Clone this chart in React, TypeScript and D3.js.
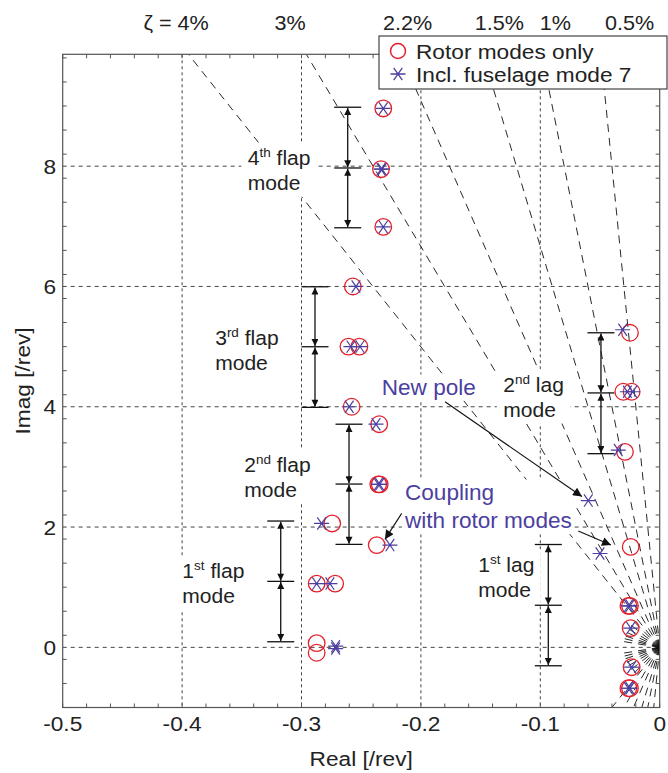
import { useEffect, useRef } from 'react';
import * as d3 from 'd3';

const W = 668;
const H = 773;

// axis ticks
const xTicks = [-0.5, -0.4, -0.3, -0.2, -0.1, 0];
const yTicks = [0, 2, 4, 6, 8];
const xGrid = [-0.4, -0.3, -0.2, -0.1];
const yGrid = [0, 2, 4, 6, 8];

// constant damping rays and their labels (label position = real part at top)
const dampingRatios = [0.04, 0.03, 0.022, 0.015, 0.01, 0.005];
const dampingLabels = ['ζ = 4%', '3%', '2.2%', '1.5%', '1%', '0.5%'];
const dampingLabelRe = [-0.405, -0.3095, -0.2112, -0.1343, -0.0873, -0.0253];
// short high damping rays near the origin
const fanRatios = [0.05, 0.065, 0.085, 0.11, 0.15, 0.2, 0.3];

// poles [real, imag] in /rev
const rotorPoles: [number, number][] = [
  [-0.2315, 8.96], [-0.2334, 7.95], [-0.2315, 6.99],
  [-0.257, 6.0],
  [-0.2607, 5.0], [-0.2515, 5.0],
  [-0.258, 4.0],
  [-0.2349, 3.71],
  [-0.2357, 2.71], [-0.2345, 2.71],
  [-0.237, 1.7],
  [-0.2743, 2.06],
  [-0.2873, 1.06], [-0.2718, 1.06],
  [-0.2873, 0.07], [-0.2873, -0.09],
  [-0.0249, 5.23],
  [-0.0305, 4.25], [-0.0235, 4.25],
  [-0.0291, 3.25],
  [-0.0243, 1.67],
  [-0.0249, 0.69], [-0.0262, 0.69],
  [-0.0243, 0.32],
  [-0.0235, -0.33],
  [-0.0249, -0.68], [-0.0262, -0.68],
];

const fuselagePoles: [number, number][] = [
  [-0.2315, 8.96], [-0.2334, 7.95], [-0.2325, 7.95], [-0.2315, 6.99],
  [-0.2544, 6.0],
  [-0.2586, 5.0], [-0.251, 5.0],
  [-0.26, 4.0],
  [-0.2376, 3.71],
  [-0.2357, 2.71], [-0.2345, 2.71],
  [-0.2259, 1.7],
  [-0.2832, 2.06],
  [-0.2873, 1.06], [-0.2762, 1.06],
  [-0.2714, 0.02], [-0.2714, -0.02],
  [-0.031, 5.28],
  [-0.0271, 4.25], [-0.0226, 4.25],
  [-0.0347, 3.28],
  [-0.0598, 2.44],
  [-0.05, 1.56],
  [-0.0249, 0.69], [-0.0262, 0.69],
  [-0.0243, 0.32],
  [-0.0235, -0.33],
  [-0.0249, -0.68], [-0.0262, -0.68],
];

// mode spread bars: x position and 3 cap levels
const barRe = [-0.2613, -0.2887, -0.2602, -0.3174, -0.0492, -0.0933];
const barCaps = [
  [8.98, 7.97, 6.976],
  [5.995, 4.998, 3.99],
  [3.71, 2.715, 1.712],
  [2.1, 1.097, 0.093],
  [5.23, 4.23, 3.22],
  [1.71, 0.7, -0.306],
];

// mode labels
const modeNum = ['4', '3', '2', '1', '2', '1'];
const modeSup = ['th', 'rd', 'nd', 'st', 'nd', 'st'];
const modeKind = ['flap', 'flap', 'flap', 'flap', 'lag', 'lag'];
const modeLabelRe = [-0.345, -0.3723, -0.348, -0.3998, -0.131, -0.152];
const modeLabelIm = [8.02, 5.03, 2.92, 1.147, 4.25, 1.25];

// blue notes and arrows
const noteLines = [['New pole'], ['Coupling', 'with rotor modes']];
const noteRe = [-0.2328, -0.2133];
const noteIm = [4.195, 2.45];
const arrowFrom: [number, number][] = [[-0.1798, 4.083], [-0.2161, 2.228], [-0.0682, 1.933]];
const arrowTo: [number, number][] = [[-0.0651, 2.507], [-0.2301, 1.796], [-0.0408, 1.7]];

const RED = '#e4202b';
const BLUE = '#4b3f9f';
const FONT = '"Liberation Sans", Arial, Helvetica, sans-serif';
const STRETCH = 1.08;

const App = () => {
  const svgRef = useRef<SVGSVGElement | null>(null);

  useEffect(() => {
    const svg = d3.select(svgRef.current);
    svg.selectAll('*').remove();

    const x = d3.scaleLinear().domain([-0.5, 0]).range([62.7, 659.7]);
    const y = d3.scaleLinear().domain([-1, 9.86]).range([707.5, 54.3]);
    const [x0, x1] = x.range();
    const [y1, y0] = y.range();

    svg.style('font-family', FONT);

    const defs = svg.append('defs');
    defs.append('clipPath').attr('id', 'plotclip')
      .append('rect').attr('x', x0).attr('y', y0).attr('width', x1 - x0).attr('height', y1 - y0);
    defs.append('marker').attr('id', 'barHead')
      .attr('viewBox', '0 0 10 10').attr('refX', 10).attr('refY', 5)
      .attr('markerWidth', 10).attr('markerHeight', 7).attr('markerUnits', 'userSpaceOnUse')
      .attr('orient', 'auto-start-reverse')
      .append('path').attr('d', 'M0,0L10,5L0,10Z').attr('fill', '#111');
    defs.append('marker').attr('id', 'noteHead')
      .attr('viewBox', '0 0 10 10').attr('refX', 10).attr('refY', 5)
      .attr('markerWidth', 14).attr('markerHeight', 9).attr('markerUnits', 'userSpaceOnUse')
      .attr('orient', 'auto')
      .append('path').attr('d', 'M0,0L10,5L0,10Z').attr('fill', '#111');

    const plot = svg.append('g').attr('clip-path', 'url(#plotclip)');

    // grid
    plot.selectAll('.vg').data(xGrid).join('line')
      .attr('x1', d => x(d)).attr('x2', d => x(d)).attr('y1', y0).attr('y2', y1)
      .attr('stroke', '#444').attr('stroke-width', 1).attr('stroke-dasharray', '3,3');
    plot.selectAll('.hg').data(yGrid).join('line')
      .attr('x1', x0).attr('x2', x1).attr('y1', d => y(d)).attr('y2', d => y(d))
      .attr('stroke', '#444').attr('stroke-width', 1).attr('stroke-dasharray', '4,4');

    // damping rays from the origin
    const ox = x(0), oy = y(0);
    const rays: [number, number, number, number][] = [];
    dampingRatios.forEach(z => {
      const k = z / Math.sqrt(1 - z * z);
      rays.push([ox, oy, x(-k * 9.86), y(9.86)]);
      rays.push([ox, oy, x(-k * 1), y(-1)]);
    });
    fanRatios.forEach(z => {
      const k = z / Math.sqrt(1 - z * z);
      const dx = x(-k) - ox, dy = y(1) - oy;
      const len = Math.hypot(dx, dy);
      const r = 38;
      rays.push([ox, oy, ox + dx / len * r, oy + dy / len * r]);
      rays.push([ox, oy, ox + dx / len * r, oy - dy / len * r]);
    });
    plot.selectAll('.ray').data(rays).join('line')
      .attr('x1', d => d[0]).attr('y1', d => d[1]).attr('x2', d => d[2]).attr('y2', d => d[3])
      .attr('stroke', '#111').attr('stroke-width', 0.9).attr('stroke-dasharray', '8,6');

    // text labels with white background
    const boxed = (g: any, pad = 6) => {
      const bb = (g.node() as SVGGElement).getBBox();
      g.insert('rect', ':first-child')
        .attr('x', bb.x - pad).attr('y', bb.y - pad / 2)
        .attr('width', bb.width + 2 * pad).attr('height', bb.height + pad)
        .attr('fill', '#fff');
    };

    modeNum.forEach((n, i) => {
      const g = svg.append('g')
        .attr('transform', `translate(${x(modeLabelRe[i])},${y(modeLabelIm[i])}) scale(${STRETCH},1)`);
      const t1 = g.append('text').attr('font-size', 19.5).attr('fill', '#222');
      t1.append('tspan').text(n);
      t1.append('tspan').attr('font-size', 12.5).attr('dy', -8).text(modeSup[i]);
      t1.append('tspan').attr('dy', 8).text(' ' + modeKind[i]);
      g.append('text').attr('y', 25).attr('font-size', 19.5).attr('fill', '#222').text('mode');
      boxed(g, 6);
    });

    noteLines.forEach((lines, i) => {
      const g = svg.append('g')
        .attr('transform', `translate(${x(noteRe[i])},${y(noteIm[i])}) scale(1.05,1)`);
      lines.forEach((l, j) => {
        g.append('text').attr('y', j * 28.3).attr('font-size', 21.5).attr('fill', BLUE).text(l);
      });
      boxed(g, 2);
    });

    // mode spread bars
    const barG = svg.append('g');
    barRe.forEach((re, i) => {
      const cx = x(re);
      const caps = barCaps[i];
      caps.forEach(c => {
        barG.append('line').attr('x1', cx - 13.5).attr('x2', cx + 13.5)
          .attr('y1', y(c)).attr('y2', y(c)).attr('stroke', '#111').attr('stroke-width', 1.3);
      });
      for (let j = 0; j < 2; j++) {
        barG.append('line').attr('x1', cx).attr('x2', cx)
          .attr('y1', y(caps[j]) + 0.7).attr('y2', y(caps[j + 1]) - 0.7)
          .attr('stroke', '#111').attr('stroke-width', 1.3)
          .attr('marker-start', 'url(#barHead)').attr('marker-end', 'url(#barHead)');
      }
    });

    // poles
    const marks = svg.append('g').attr('clip-path', 'url(#plotclip)');
    marks.selectAll('.rp').data(rotorPoles).join('circle')
      .attr('cx', d => x(d[0])).attr('cy', d => y(d[1])).attr('r', 8.3)
      .attr('fill', 'none').attr('stroke', RED).attr('stroke-width', 1.3);
    const star = (r: number) => {
      const a = (55 * Math.PI) / 180;
      const c = Math.cos(a) * r, s = Math.sin(a) * r;
      return `M${-r},0L${r},0M${-c},${-s}L${c},${s}M${-c},${s}L${c},${-s}`;
    };
    marks.selectAll('.fp').data(fuselagePoles).join('path')
      .attr('transform', d => `translate(${x(d[0])},${y(d[1])})`)
      .attr('d', star(7.5))
      .attr('fill', 'none').attr('stroke', BLUE).attr('stroke-width', 1.2);

    // note arrows
    arrowFrom.forEach((f, i) => {
      svg.append('line')
        .attr('x1', x(f[0])).attr('y1', y(f[1]))
        .attr('x2', x(arrowTo[i][0])).attr('y2', y(arrowTo[i][1]))
        .attr('stroke', '#111').attr('stroke-width', 1.1)
        .attr('marker-end', 'url(#noteHead)');
    });

    // frame and ticks
    const axisColor = '#555';
    svg.append('rect').attr('x', x0).attr('y', y0).attr('width', x1 - x0).attr('height', y1 - y0)
      .attr('fill', 'none').attr('stroke', axisColor).attr('stroke-width', 1.2);
    const minorX = d3.range(-0.5, 0.0001, 0.02);
    const minorY = d3.range(-1, 9.86, 0.4);
    const tk = svg.append('g').attr('stroke', axisColor).attr('stroke-width', 1);
    minorX.forEach(v => {
      tk.append('line').attr('x1', x(v)).attr('x2', x(v)).attr('y1', y1).attr('y2', y1 - 4);
      tk.append('line').attr('x1', x(v)).attr('x2', x(v)).attr('y1', y0).attr('y2', y0 + 4);
    });
    minorY.forEach(v => {
      tk.append('line').attr('x1', x0).attr('x2', x0 + 4).attr('y1', y(v)).attr('y2', y(v));
      tk.append('line').attr('x1', x1).attr('x2', x1 - 4).attr('y1', y(v)).attr('y2', y(v));
    });

    svg.selectAll('.xt').data(xTicks).join('text')
      .attr('transform', d => `translate(${x(d)},731) scale(${STRETCH},1)`)
      .attr('text-anchor', 'middle').attr('font-size', 21).attr('fill', '#222')
      .text(d => (d === 0 ? '0' : d3.format('.1f')(d).replace('−', '-')));
    svg.selectAll('.yt').data(yTicks).join('text')
      .attr('transform', d => `translate(56,${y(d) + 7.5}) scale(${STRETCH},1)`)
      .attr('text-anchor', 'end').attr('font-size', 21).attr('fill', '#222')
      .text(d => String(d));

    svg.append('text')
      .attr('transform', `translate(${(x0 + x1) / 2},766) scale(${STRETCH},1)`)
      .attr('text-anchor', 'middle').attr('font-size', 21).attr('fill', '#222')
      .text('Real [/rev]');
    svg.append('text')
      .attr('transform', `translate(30,${(y0 + y1) / 2}) rotate(-90) scale(${STRETCH},1)`)
      .attr('text-anchor', 'middle').attr('font-size', 21).attr('fill', '#222')
      .text('Imag [/rev]');

    // damping labels above the frame
    dampingLabels.forEach((l, i) => {
      svg.append('text')
        .attr('transform', `translate(${x(dampingLabelRe[i])},30) scale(${STRETCH},1)`)
        .attr('text-anchor', 'middle').attr('font-size', 20).attr('fill', '#222')
        .text(l);
    });

    // legend
    const lg = svg.append('g');
    lg.append('rect').attr('x', 379).attr('y', 36).attr('width', 288).attr('height', 53)
      .attr('fill', '#fff').attr('stroke', '#444').attr('stroke-width', 1.2);
    lg.append('circle').attr('cx', 398).attr('cy', 51).attr('r', 7.5)
      .attr('fill', 'none').attr('stroke', RED).attr('stroke-width', 1.5);
    lg.append('path').attr('transform', 'translate(398,74)').attr('d', star(7.5))
      .attr('fill', 'none').attr('stroke', BLUE).attr('stroke-width', 1.3);
    lg.append('text').attr('transform', `translate(416,58.5) scale(${STRETCH},1)`)
      .attr('font-size', 21).attr('fill', '#222').text('Rotor modes only');
    lg.append('text').attr('transform', `translate(416,82) scale(${STRETCH},1)`)
      .attr('font-size', 21).attr('fill', '#222').text('Incl. fuselage mode 7');
  }, []);

  return (
    <div style={{ position: 'fixed', left: 0, top: 0, width: W, height: H, background: '#fff' }}>
      <svg ref={svgRef} width={W} height={H} style={{ display: 'block' }} />
    </div>
  );
};

export default App;
